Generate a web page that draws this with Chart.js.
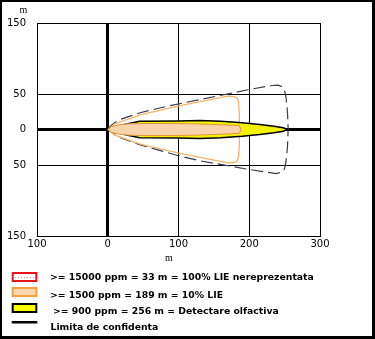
<!DOCTYPE html>
<html>
<head>
<meta charset="utf-8">
<script src="https://cdn.jsdelivr.net/npm/chart.js@4.4.1/dist/chart.umd.min.js"></script>
<style>
  html, body { margin: 0; padding: 0; background: #fff; }
  #wrap { position: relative; width: 375px; height: 339px; }
  #frame {
    position: absolute; left: 0; top: 0; width: 375px; height: 339px;
    box-sizing: border-box; border: solid #000; border-width: 2px 3px 3px 2px;
    pointer-events: none;
  }
</style>
</head>
<body>
<div id="wrap">
  <canvas id="zoneChart" width="375" height="339"></canvas>
  <div id="frame"></div>
</div>
<script>
const xTicks = [-100, 0, 100, 200, 300];
const yTicks = [-150, -50, 0, 50, 150];

const zoneLabels = [
  '>= 15000 ppm = 33 m = 100% LIE nereprezentata',
  '>= 1500 ppm = 189 m = 10% LIE',
  '>= 900 ppm = 256 m = Detectare olfactiva',
  'Limita de confidenta'
];

// zona >= 900 ppm: distanta pe directia vantului si semilatimea (m)
const yellowDist  = [0, 5, 15, 30, 45, 100, 130, 160, 190, 215, 235, 248, 254];
const yellowUpper = [0, 2.5, 5, 8.5, 11.5, 12, 12.5, 11.5, 9.5, 7, 4.5, 2.5, 0];
const yellowLower = [0, -2.5, -5, -8.5, -11.5, -12, -12.5, -11.5, -9.5, -7, -4.5, -2.5, 0];

// zona >= 1500 ppm
const orangeDist  = [0, 5, 15, 30, 50, 90, 120, 150, 175, 186, 188];
const orangeUpper = [0, 4, 6.5, 8, 8.5, 8.5, 8, 7, 6, 5.5, 0];
const orangeLower = [0, -4, -6.5, -8, -8.5, -8.5, -8, -7, -6, -5.5, 0];

// limite de confidenta (contur complet)
const confYellowX = [0, 4, 10, 20, 47, 85, 130, 198, 232, 241, 247, 250, 252, 254, 255, 254, 252, 250, 246, 238, 198, 130, 100, 47, 19, 0];
const confYellowY = [0, 5, 10, 15, 24, 33, 42, 56, 62, 62.5, 60, 55, 45, 25, 0, -25, -45, -55, -60, -62, -56, -44, -37, -22, -12, 0];
const confOrangeX = [0, 10, 47, 99, 150, 170, 178, 183, 185, 186, 186, 185, 183, 178, 170, 150, 99, 47, 10, 0];
const confOrangeY = [0, 8, 21, 33, 43, 47, 46.5, 44, 38, 20, -20, -38, -44, -46.5, -47, -43, -33, -21, -8, 0];

function outline(dist, upper, lower) {
  const pts = dist.map((d, i) => ({ x: d, y: upper[i] }));
  for (let i = dist.length - 1; i >= 0; i--) pts.push({ x: dist[i], y: lower[i] });
  return pts;
}

function path(xs, ys) {
  return xs.map((x, i) => ({ x: x, y: ys[i] }));
}

function dotPattern(ctx) {
  const c = document.createElement('canvas');
  c.width = 3; c.height = 4;
  const p = c.getContext('2d');
  p.fillStyle = '#fff';
  p.fillRect(0, 0, 3, 4);
  p.fillStyle = '#f08a8a';
  p.fillRect(0, 1, 1, 1);
  return ctx.createPattern(c, 'repeat');
}

const axisNotes = {
  id: 'axisNotes',
  afterDraw(chart) {
    const ctx = chart.ctx;
    ctx.save();
    ctx.fillStyle = '#000';
    ctx.font = '10px "Liberation Serif"';
    ctx.textAlign = 'center';
    ctx.textBaseline = 'middle';
    ctx.fillText('m', 23.5, 10.5);
    ctx.fillText('m', 169, 258);

    // legenda
    const bx = 11.7, bw = 25.6, bh = 10;
    ctx.lineWidth = 2;
    ctx.fillStyle = dotPattern(ctx);
    ctx.fillRect(bx, 272, bw, bh);
    ctx.strokeStyle = '#e8141c';
    ctx.strokeRect(bx + 1, 273, bw - 2, bh - 2);

    ctx.fillStyle = '#fcd5ac';
    ctx.fillRect(bx, 287, bw, bh);
    ctx.strokeStyle = '#f5a040';
    ctx.strokeRect(bx + 1, 288, bw - 2, bh - 2);

    ctx.fillStyle = '#ffff00';
    ctx.fillRect(bx, 303, bw, bh);
    ctx.strokeStyle = '#000';
    ctx.strokeRect(bx + 1, 304, bw - 2, bh - 2);

    ctx.fillStyle = '#000';
    ctx.fillRect(bx, 321, bw, 2.5);

    ctx.font = 'bold 9.3px "DejaVu Sans"';
    ctx.textAlign = 'left';
    ctx.textBaseline = 'alphabetic';
    ctx.fillText(zoneLabels[0], 50, 280);
    ctx.fillText(zoneLabels[1], 50, 297.5);
    ctx.fillText(zoneLabels[2], 53, 314);
    ctx.fillText(zoneLabels[3], 50.5, 330);
    ctx.restore();
  }
};

const zeroWide = c => (c.tick && c.tick.value === 0 ? 3 : 1);

new Chart(document.getElementById('zoneChart'), {
  type: 'line',
  data: {
    datasets: [
      {
        label: zoneLabels[1],
        data: outline(orangeDist, orangeUpper, orangeLower),
        backgroundColor: '#f9d3ac',
        borderColor: '#e0963e',
        borderWidth: 1,
        fill: 'shape'
      },
      {
        label: zoneLabels[2],
        data: outline(yellowDist, yellowUpper, yellowLower),
        backgroundColor: '#f2f200',
        borderColor: '#000',
        borderWidth: 1.5,
        fill: 'shape'
      },
      {
        label: 'confidenta 1500 ppm',
        data: path(confOrangeX, confOrangeY),
        borderColor: '#f3b46c',
        borderWidth: 1.3,
        fill: false
      },
      {
        label: zoneLabels[3],
        data: path(confYellowX, confYellowY),
        borderColor: '#3c3c4c',
        borderWidth: 1.2,
        borderDash: [12, 5],
        fill: false
      }
    ]
  },
  options: {
    responsive: false,
    animation: false,
    events: [],
    layout: { padding: { top: 23, right: 55, left: 0, bottom: 0 } },
    elements: { point: { radius: 0 }, line: { tension: 0 } },
    plugins: { legend: { display: false }, tooltip: { enabled: false } },
    scales: {
      x: {
        type: 'linear',
        min: -100,
        max: 300,
        z: 1,
        afterBuildTicks: s => { s.ticks = xTicks.map(v => ({ value: v })); },
        afterFit: s => { s.height = 103; },
        grid: { color: '#000', lineWidth: zeroWide, drawTicks: false },
        border: { color: '#000', width: 1 },
        ticks: {
          padding: 2,
          color: '#000',
          font: { family: 'DejaVu Sans', size: 10 },
          maxRotation: 0,
          callback: v => String(v < 0 ? -v : v)
        }
      },
      y: {
        type: 'linear',
        min: -150,
        max: 150,
        z: 1,
        afterBuildTicks: s => { s.ticks = yTicks.map(v => ({ value: v })); },
        afterFit: s => { s.width = 37; },
        grid: { color: '#000', lineWidth: zeroWide, drawTicks: false },
        border: { color: '#000', width: 1 },
        ticks: {
          padding: 11,
          color: '#000',
          font: { family: 'DejaVu Sans', size: 10 },
          callback: v => String(v < 0 ? -v : v)
        }
      }
    }
  },
  plugins: [axisNotes]
});
</script>
</body>
</html>
